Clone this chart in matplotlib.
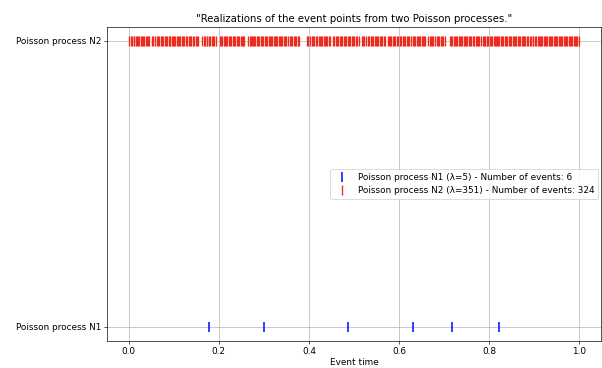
import numpy as np
import matplotlib
matplotlib.use("Agg")
import matplotlib.pyplot as plt

title = '"Realizations of the event points from two Poisson processes."'
xlabel = "Event time"
ytick_labels = ["Poisson process N1", "Poisson process N2"]
lam1, lam2 = 5, 351

n1_events = [0.178, 0.300, 0.487, 0.630, 0.718, 0.822]

n2_events = [
    0.002, 0.005, 0.008, 0.011, 0.013, 0.016, 0.019, 0.022, 0.024, 0.027, 0.030, 0.033,
    0.035, 0.038, 0.041, 0.043, 0.046,
    0.053, 0.055,
    0.059, 0.062, 0.065, 0.068, 0.071, 0.074, 0.077,
    0.081, 0.084, 0.086, 0.089, 0.091,
    0.093, 0.096, 0.098, 0.101, 0.104, 0.107, 0.109, 0.112,
    0.115, 0.118, 0.121, 0.124, 0.127, 0.130,
    0.133, 0.136, 0.139,
    0.144, 0.146, 0.149, 0.152, 0.154,
    0.164, 0.167, 0.170, 0.173, 0.175, 0.178, 0.181,
    0.184, 0.187, 0.190, 0.193,
    0.203, 0.206, 0.208, 0.211, 0.214, 0.216, 0.219, 0.222,
    0.225, 0.228, 0.231, 0.234, 0.237, 0.240,
    0.243, 0.246, 0.249, 0.251, 0.254, 0.257,
    0.266, 0.269, 0.271, 0.274,
    0.275, 0.278, 0.281, 0.284, 0.287, 0.290, 0.293, 0.296,
    0.299, 0.302, 0.305, 0.308, 0.311, 0.313, 0.316, 0.319, 0.322, 0.325, 0.327, 0.330,
    0.333, 0.336, 0.339, 0.341, 0.344, 0.347, 0.350,
    0.354, 0.357, 0.360, 0.363, 0.366, 0.369, 0.372, 0.375, 0.378,
    0.395, 0.398,
    0.403, 0.406, 0.408, 0.412,
    0.416, 0.419, 0.422, 0.424, 0.427, 0.430, 0.433, 0.436, 0.439, 0.441, 0.444, 0.447,
    0.453, 0.456, 0.459, 0.462, 0.465, 0.468, 0.471, 0.474, 0.477, 0.480,
    0.483, 0.486, 0.489, 0.492, 0.495, 0.498, 0.501, 0.504, 0.507, 0.510,
    0.517, 0.520, 0.523, 0.526,
    0.532, 0.534, 0.537, 0.540, 0.543, 0.546, 0.549, 0.551, 0.554, 0.557, 0.560, 0.563, 0.566, 0.569,
    0.575, 0.578, 0.580, 0.583, 0.586, 0.589, 0.592, 0.595, 0.598,
    0.602, 0.605, 0.608, 0.611, 0.614, 0.617, 0.620, 0.623, 0.626,
    0.631, 0.633, 0.636, 0.639, 0.641, 0.644, 0.647, 0.650, 0.652, 0.655, 0.658,
    0.665, 0.668, 0.670, 0.673, 0.675,
    0.680, 0.683, 0.686, 0.689, 0.692, 0.695, 0.698, 0.701,
    0.712, 0.715, 0.718, 0.721, 0.723, 0.726, 0.729, 0.732, 0.734, 0.737, 0.740, 0.743, 0.746, 0.748, 0.751, 0.754, 0.757,
    0.760, 0.763, 0.766,
    0.770, 0.772, 0.775, 0.777,
    0.782, 0.785, 0.788, 0.791, 0.794,
    0.795, 0.798, 0.801, 0.804, 0.807, 0.810,
    0.812, 0.815, 0.817, 0.820, 0.822,
    0.825, 0.828, 0.831, 0.834, 0.837, 0.840, 0.843, 0.846, 0.849, 0.852, 0.855,
    0.858, 0.860, 0.863, 0.866, 0.869, 0.872, 0.874, 0.877, 0.880, 0.883, 0.886,
    0.890, 0.893, 0.896, 0.898, 0.901, 0.904, 0.907, 0.910, 0.913, 0.915,
    0.918, 0.921, 0.924, 0.926, 0.929, 0.932, 0.935, 0.937, 0.940, 0.943, 0.946, 0.948, 0.951, 0.954, 0.957, 0.960,
    0.962, 0.965, 0.968, 0.970, 0.973, 0.976, 0.979, 0.981, 0.984, 0.987, 0.990, 0.992, 0.995, 0.998,
]

DPI = 60
plt.rcParams["font.size"] = 10.6
plt.rcParams["axes.titlesize"] = 12.2

fig = plt.figure(figsize=(602 / DPI, 368 / DPI), dpi=DPI)
ax = fig.add_axes([107 / 602, (368 - 341.3) / 368, (601 - 107) / 602, (341.3 - 26.7) / 368])

ax.plot(n1_events, np.zeros(len(n1_events)), linestyle="none", marker="|",
        color="blue", markersize=11, markeredgewidth=1.8,
        label=f"Poisson process N1 (\u03bb={lam1}) - Number of events: {len(n1_events)}")
ax.plot(n2_events, np.ones(len(n2_events)), linestyle="none", marker="|",
        color="#ee2a1e", markersize=12, markeredgewidth=1.6,
        label=f"Poisson process N2 (\u03bb={lam2}) - Number of events: 324")

ax.set_yticks([0, 1])
ax.set_yticklabels(ytick_labels)
ax.set_xticks([0.0, 0.2, 0.4, 0.6, 0.8, 1.0])
ax.set_xlabel(xlabel, labelpad=2.5)
ax.set_title(title)
ax.grid(True)
ax.legend(loc="center right", numpoints=1, borderaxespad=0.3)

fig.savefig("out.png", dpi=DPI)
